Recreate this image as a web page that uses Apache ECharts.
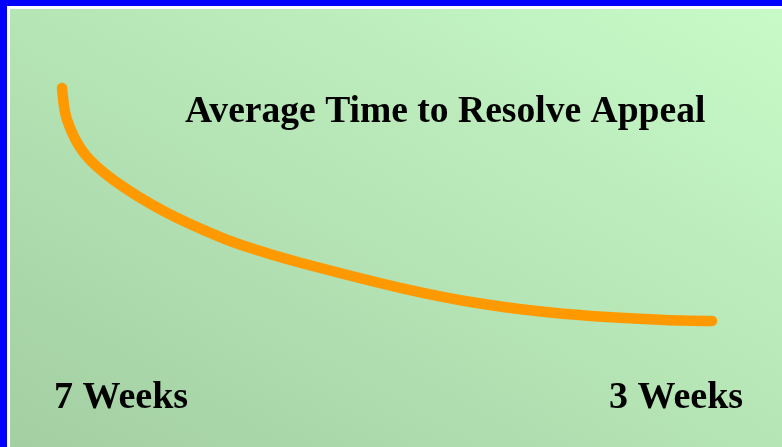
<!DOCTYPE html>
<html>
<head>
<meta charset="utf-8">
<script src="https://cdn.jsdelivr.net/npm/echarts@6/dist/echarts.min.js"></script>
<style>
  body { margin: 0; background: #ffffff; }
  #frame {
    position: absolute; left: 0; top: 0; width: 782px; height: 447px;
    box-sizing: border-box;
    border-left: 7px solid #0000ff;
    border-top: 6px solid #0000ff;
  }
  #chart { position: absolute; left: 10px; top: 9px; width: 772px; height: 438px; }
</style>
</head>
<body>
<div id="frame"></div>
<div id="chart"></div>
<script>
// months into the period and average resolution time in weeks
const months = [0, 0.09, 0.40, 0.95, 1.87, 2.92, 3.66, 4.40, 6.24, 7.72, 9.20, 11.04, 12]
const weeks = [7.0, 6.46, 5.89, 5.42, 4.89, 4.44, 4.20, 4.00, 3.57, 3.30, 3.13, 3.02, 3.0]
const titleText = 'Average Time to Resolve Appeal'
const startLabel = '7 Weeks'
const endLabel = '3 Weeks'

const chart = echarts.init(document.getElementById('chart'))

const font = '"Liberation Serif", "Times New Roman", serif'

// one smooth path through all points (catmull-rom turned into cubic beziers)
const renderCurve = (params, api) => {
  if (params.dataIndex !== 0) return
  const pts = months.map((m, i) => api.coord([m, weeks[i]]))
  const n = pts.length
  let d = 'M' + pts[0][0] + ' ' + pts[0][1]
  for (let i = 0; i < n - 1; i++) {
    const p0 = pts[Math.max(i - 1, 0)]
    const p1 = pts[i]
    const p2 = pts[i + 1]
    const p3 = pts[Math.min(i + 2, n - 1)]
    const c1x = p1[0] + (p2[0] - p0[0]) / 6
    const c1y = p1[1] + (p2[1] - p0[1]) / 6
    const c2x = p2[0] - (p3[0] - p1[0]) / 6
    const c2y = p2[1] - (p3[1] - p1[1]) / 6
    d += ' C' + c1x + ' ' + c1y + ' ' + c2x + ' ' + c2y + ' ' + p2[0] + ' ' + p2[1]
  }
  return {
    type: 'path',
    shape: { pathData: d },
    style: {
      fill: 'none',
      stroke: '#ff9900',
      lineWidth: 10.5,
      lineCap: 'round',
      lineJoin: 'round'
    }
  }
}

chart.setOption({
  backgroundColor: {
    type: 'linear',
    x: 0.2565, y: 1.2566, x2: 0.7435, y2: -0.2566,
    colorStops: [
      { offset: 0, color: '#a3cfa3' },
      { offset: 1, color: '#c8fac8' }
    ]
  },
  title: {
    text: titleText,
    left: 170,
    top: 79,
    textStyle: {
      fontFamily: font,
      fontWeight: 'bold',
      fontSize: 37.6,
      color: '#000000'
    }
  },
  grid: { left: 52, right: 70, top: 79, bottom: 126 },
  xAxis: { type: 'value', min: 0, max: 12, show: false },
  yAxis: { type: 'value', min: 3, max: 7, show: false },
  series: [
    {
      type: 'custom',
      data: months.map((m, i) => [m, weeks[i]]),
      renderItem: renderCurve,
      clip: false,
      silent: true
    }
  ],
  graphic: [
    {
      type: 'text', left: 44, top: 370,
      style: { text: startLabel, font: 'bold 38px ' + font, fill: '#000000' }
    },
    {
      type: 'text', left: 599, top: 370,
      style: { text: endLabel, font: 'bold 38px ' + font, fill: '#000000' }
    }
  ]
})
</script>
</body>
</html>
